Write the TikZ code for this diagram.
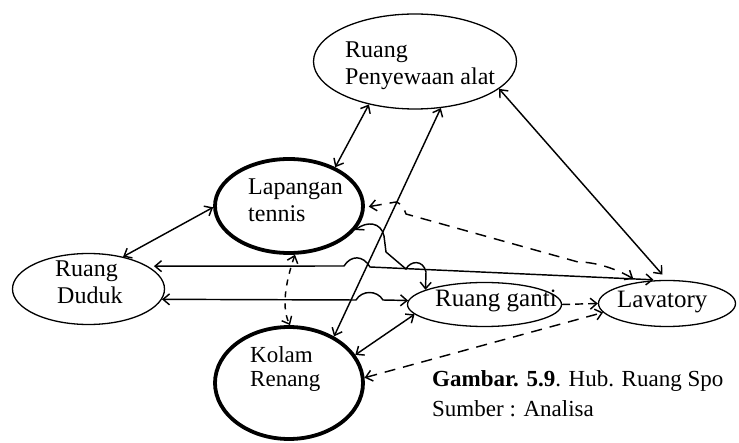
\documentclass[tikz,border=0pt]{standalone}
\usepackage{fontspec}
\setmainfont{Liberation Serif}
\usetikzlibrary{shapes.geometric,arrows.meta}

\tikzset{
  barb/.tip={Straight Barb[length=6.5pt,width=11pt]},
  room/.style={draw, ellipse, line width=1.3pt, inner sep=0pt},
  zone/.style={draw, ellipse, line width=3.8pt, inner sep=0pt},
  txt/.style={anchor=base west, inner sep=0pt, font=\fontsize{24}{28}\selectfont},
  txtbig/.style={txt, font=\fontsize{25}{29}\selectfont},
  txtsmall/.style={txt, font=\fontsize{23}{27}\selectfont},
  link/.style={line width=1.45pt, barb-barb},
  dlink/.style={link, dash pattern=on 11pt off 8pt},
  dshort/.style={link, dash pattern=on 6pt off 6pt},
}

\begin{document}
\begin{tikzpicture}[x=1pt,y=-1pt]
  \fill[white] (0,0) rectangle (739,443);
  \useasboundingbox (0,0) rectangle (739,443);
  \clip (0,0) rectangle (739,443);

  % rooms
  \node[room, minimum width=203pt, minimum height=95pt] (pen) at (415,61.5) {};
  \node[zone, minimum width=148pt, minimum height=94pt] (lap) at (289,206) {};
  \node[room, minimum width=152pt, minimum height=71pt] (dud) at (88.5,289) {};
  \node[zone, minimum width=148pt, minimum height=112pt] (kol) at (289,383) {};
  \node[room, minimum width=154pt, minimum height=44pt] (gan) at (484.5,304.5) {};
  \node[room, minimum width=137pt, minimum height=46pt] (lav) at (667,303.5) {};

  % room names
  \node[txt] (penA) at (345,58) {Ruang};
  \node[txt] (penB) at (345,85) {Penyewaan alat};
  \node[txt] (lapA) at (248,195) {Lapangan};
  \node[txt] (lapB) at (248,222) {tennis};
  \node[txt] (dudA) at (55,277) {Ruang};
  \node[txt] (dudB) at (57,304) {Duduk};
  \node[txtsmall] (kolA) at (250,363) {Kolam};
  \node[txtsmall] (kolB) at (250,387) {Renang};
  \node[txtbig] (ganA) at (435,307) {Ruang ganti};
  \node[txtbig] (lavA) at (617,308) {Lavatory};

  % caption
  \node[txtsmall] (capA) at (432,387) {\textbf{Gambar. 5.9}. Hub. Ruang Spo};
  \node[txtsmall] (capB) at (432,417) {Sumber : Analisa};

  % relations
  \draw[link] (lap.40) -- (pen.223);
  \draw[link] (kol.46) -- (pen.299);
  \draw[link, shorten >=7pt] (pen.342) -- (lav.90);
  \draw[link] (lap.181) -- (dud.43);
  \draw[link, shorten <=6pt, shorten >=5pt] (dud.21) -- (344,266)
    .. controls (351,255) and (363,255) .. (370,267) -- (lav.110);
  \draw[link] (dud.-8) -- (356,300)
    .. controls (362,290) and (377,290) .. (383,300) -- (gan.177);
  \draw[link] (lap.340) .. controls (367,221) and (381,222) .. (384,236)
    -- (386,252) -- (406,269)
    .. controls (410,261) and (423,259) .. (426,272) -- (gan.166);
  \draw[link] (kol.23) -- (gan.188);
  \draw[dshort] (lap.277) .. controls (288,275) and (280,305) .. (kol.89);
  \draw[dlink, shorten <=6pt, shorten >=4pt] (lav.143)
    .. controls (622,272) and (600,262) .. (578,262) -- (406,214)
    .. controls (404,207) and (400,203) .. (396,202) -- (lap.-1);
  \draw[dlink] (kol.4) -- (lav.188);
  \draw[line width=1.45pt, dash pattern=on 8pt off 5pt, -barb] (gan.0) -- (lav.180);
\end{tikzpicture}
\end{document}
